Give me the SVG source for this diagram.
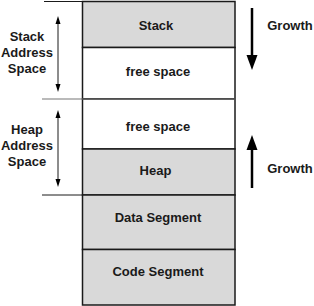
<svg xmlns="http://www.w3.org/2000/svg" width="314" height="306" viewBox="0 0 314 306">
<style>
.g{fill:#d9d9d9;stroke:#1a1a1a;stroke-width:1.5}
.w{fill:#ffffff;stroke:#1a1a1a;stroke-width:1.5}
.t{font-family:"Liberation Sans",Arial,sans-serif;font-weight:bold;font-size:13px;fill:#1a1a1a;text-anchor:middle}
.l{stroke:#1a1a1a;stroke-width:1;fill:none}
.gl{stroke:#777;stroke-width:1.2;fill:none}
.big{stroke:#000;stroke-width:2.5;fill:none}
.h{fill:#000}
</style>
<rect width="314" height="306" fill="#fff"/>
<g id="stack"><rect class="g" x="82.5" y="1.5" width="152.5" height="46"/><text class="t" x="156" y="30">Stack</text></g>
<g id="free1"><rect class="w" x="82.5" y="47.5" width="152.5" height="51.5"/><text class="t" x="158" y="76">free space</text></g>
<g id="free2"><rect class="w" x="82.5" y="99" width="152.5" height="50"/><text class="t" x="158" y="131">free space</text></g>
<g id="heap"><rect class="g" x="82.5" y="149" width="152.5" height="46"/><text class="t" x="155.5" y="174.5">Heap</text></g>
<g id="data"><rect class="g" x="82.5" y="195" width="152.5" height="54.5"/><text class="t" x="158" y="222">Data Segment</text></g>
<g id="code"><rect class="g" x="82.5" y="249.5" width="152.5" height="55.5"/><text class="t" x="158" y="276">Code Segment</text></g>
<g id="stack-label"><text class="t" x="27" y="41">Stack</text><text class="t" x="27" y="57">Address</text><text class="t" x="27" y="73">Space</text></g>
<g id="heap-label"><text class="t" x="27" y="134">Heap</text><text class="t" x="27" y="150">Address</text><text class="t" x="27" y="166">Space</text></g>
<g id="growth-down"><text class="t" x="290" y="30">Growth</text></g>
<g id="growth-up"><text class="t" x="290" y="173">Growth</text></g>
<g id="connectors">
<line class="l" x1="44" y1="1.5" x2="82" y2="1.5"/>
<line class="gl" x1="42" y1="99" x2="236" y2="99"/>
<line class="l" x1="42" y1="195" x2="82" y2="195"/>
<line class="l" x1="58" y1="20" x2="58" y2="88"/>
<polygon class="h" points="58,16 55.5,24 60.5,24"/>
<polygon class="h" points="58,92 55.5,84 60.5,84"/>
<line class="l" x1="58" y1="114" x2="58" y2="183"/>
<polygon class="h" points="58,110 55.5,118 60.5,118"/>
<polygon class="h" points="58,187 55.5,179 60.5,179"/>
<line class="big" x1="252" y1="8" x2="252" y2="57"/>
<polygon class="h" points="246.5,55 257.5,55 252,70"/>
<line class="big" x1="252" y1="148" x2="252" y2="188"/>
<polygon class="h" points="246.5,150 257.5,150 252,135"/>
</g>
</svg>
